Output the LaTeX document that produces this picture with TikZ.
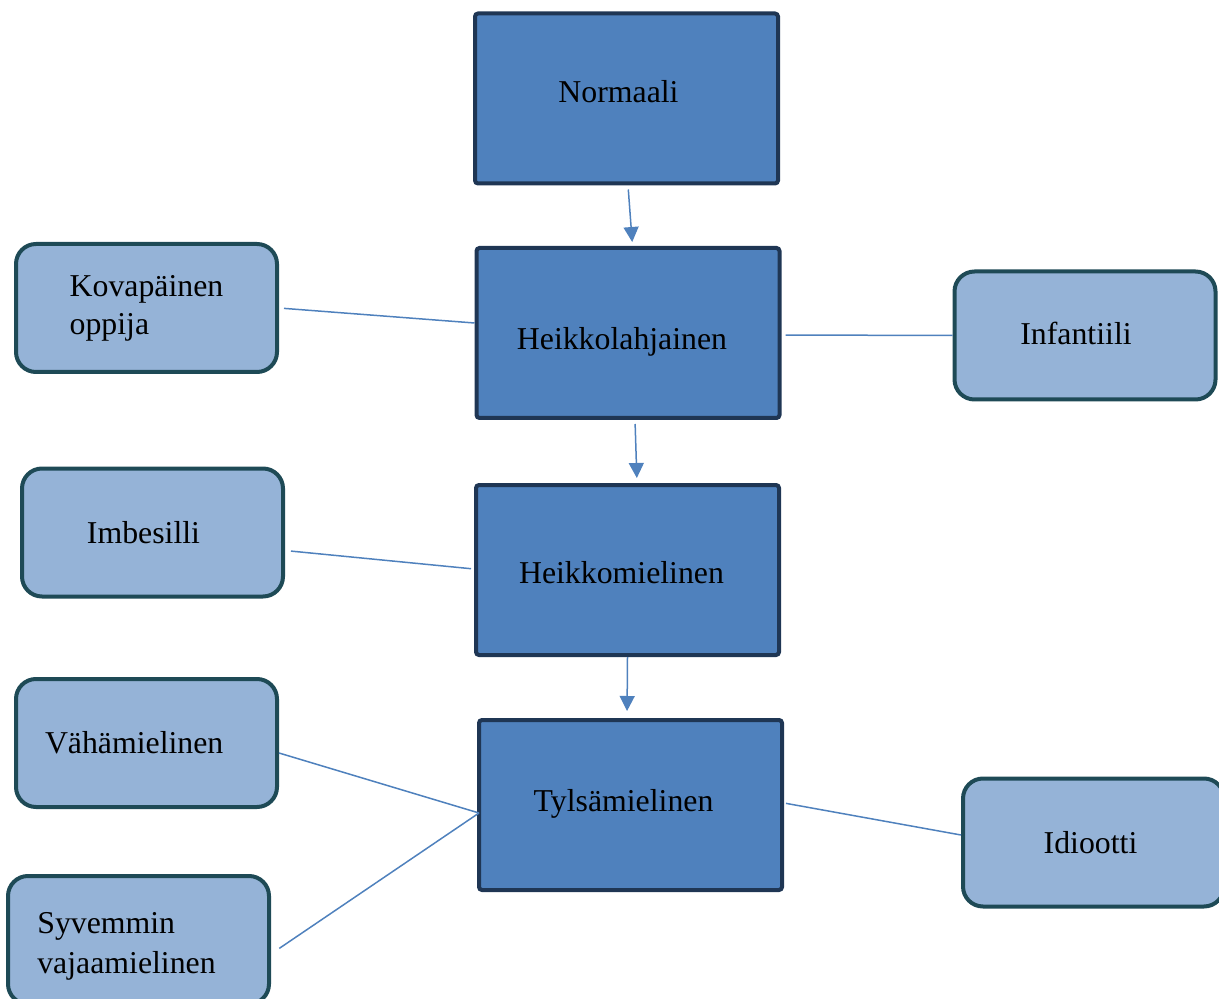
\documentclass[tikz,border=0pt]{standalone}
\usepackage{fontspec}
\setmainfont{Liberation Serif}
\usetikzlibrary{arrows.meta}
\definecolor{darkfill}{HTML}{4F81BD}
\definecolor{darkborder}{HTML}{1F3654}
\definecolor{lightfill}{HTML}{95B3D7}
\definecolor{lightborder}{HTML}{1E4A56}
\definecolor{linkcol}{HTML}{4F81BD}
\begin{document}
\begin{tikzpicture}[x=0.5pt,y=-0.5pt,
  boxfont/.style={font=\fontsize{15.9}{20}\selectfont},
  every label/.style={boxfont,inner sep=0pt},
  mainbox/.style={draw=darkborder,fill=darkfill,line width=2pt,rounded corners=1.5pt,
    minimum width=151.5pt,minimum height=85pt,inner sep=0pt,boxfont},
  sidebox/.style={draw=lightborder,fill=lightfill,line width=2pt,rounded corners=10pt,
    minimum width=130.5pt,minimum height=64pt,inner sep=0pt,boxfont},
  arr/.style={draw=linkcol,line width=0.75pt,-{Triangle[width=7.5pt,length=7.5pt]}},
  link/.style={draw=linkcol,line width=0.75pt}]
\useasboundingbox (0,0) rectangle (1219,999);
\clip (0,0) rectangle (1219,999);
% main chain
\node[mainbox,label={[xshift=-4pt,yshift=3.5pt]center:Normaali}] (N)  at (626.5,98.5) {};
\node[mainbox,label={[xshift=-3pt,yshift=-4.5pt]center:Heikkolahjainen}] (HL) at (628,333) {};
\node[mainbox,label={[xshift=-3pt,yshift=-1.5pt]center:Heikkomielinen}] (HM) at (627.5,570) {};
\node[mainbox,label={[xshift=-3.5pt,yshift=0.5pt]center:Tylsämielinen}] (T)  at (630.5,805) {};
% side boxes
\node[sidebox,align=left,yshift=1pt] (Kova) at (146.5,310) {Kovapäinen\\[-1pt]oppija};
\node[sidebox,label={[xshift=-4.5pt,yshift=1pt]center:Infantiili}] (Inf) at (1085,335.5) {};
\node[sidebox,label={[xshift=-4.5pt]center:Imbesilli}] (Imb) at (152.5,532.5) {};
\node[sidebox,align=left,text width=101.5pt,inner xsep=14.5pt] (Vah) at (146.5,743) {Vähämielinen};
\node[sidebox,label={[xshift=-6pt,yshift=-3pt,align=left]center:Syvemmin\\vajaamielinen}] (Syv) at (138.5,940) {};
\node[sidebox,label={[xshift=-1.5pt]center:Idiootti}] (Idi) at (1093.5,842.5) {};
% arrows
\draw[arr,shorten <=2pt,shorten >=2pt] ([xshift=0.75pt]N.south) -- ([xshift=2.25pt]HL.north);
\draw[arr,shorten <=2pt,shorten >=2.5pt] ([xshift=3.5pt]HL.south) -- ([xshift=4.75pt]HM.north);
\draw[arr,shorten >=3.5pt] (HM.south) -- ([xshift=-1.75pt]T.north);
% links
\draw[link,shorten <=2.5pt] (Kova.east) -- ([yshift=5pt]HL.west);
\draw[link,shorten <=2pt] ([yshift=-1pt]HL.east) -- (Inf.west);
\draw[link,shorten <=3pt,shorten >=1.5pt] ([yshift=-9pt]Imb.east) -- ([yshift=0.5pt]HM.west);
\draw[link] ([yshift=-5pt]Vah.east) -- ([yshift=-4pt,xshift=1pt]T.west);
\draw[link,shorten <=5pt] ([yshift=-7pt]Syv.east) -- ([yshift=-4pt,xshift=1pt]T.west);
\draw[link,shorten <=1pt] ([yshift=1pt]T.east) -- ([yshift=3.75pt]Idi.west);
\end{tikzpicture}
\end{document}
